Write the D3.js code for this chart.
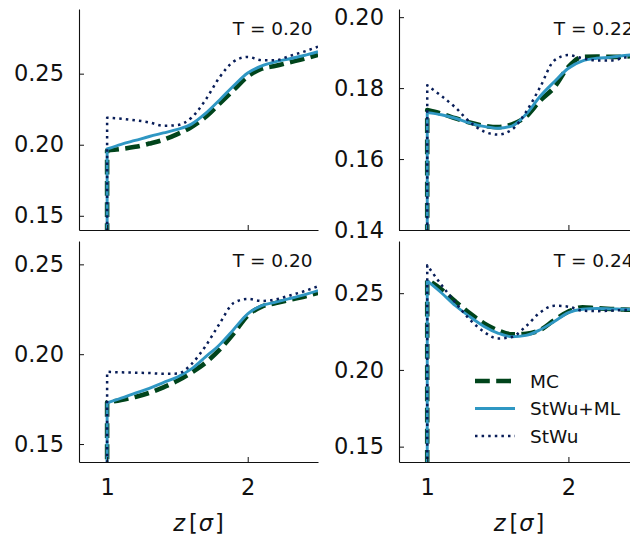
<!DOCTYPE html>
<html>
<head>
<meta charset="utf-8">
<script src="https://cdn.jsdelivr.net/npm/d3@7"></script>
<style>
  html, body { margin: 0; padding: 0; background: #fff; }
  svg { display: block; }
  text { font-family: "DejaVu Sans", sans-serif; fill: #111; }
</style>
</head>
<body>
<svg id="chart" width="630" height="541"></svg>
<script>
// Distance grid z in units of sigma (the profile starts at contact, z = 1)
const zGrid = [1.0, 1.1, 1.2, 1.3, 1.4, 1.5, 1.6, 1.7, 1.8, 1.9, 2.0, 2.1, 2.2, 2.3, 2.4, 2.5];

// Top-left panel, T = 0.20
const mcA   = [0.1960, 0.1970, 0.1985, 0.2008, 0.2035, 0.2075, 0.2125, 0.2195, 0.2290, 0.2385, 0.2480, 0.2535, 0.2555, 0.2580, 0.2605, 0.2633];
const mlA   = [0.1970, 0.2003, 0.2030, 0.2058, 0.2083, 0.2108, 0.2145, 0.2220, 0.2315, 0.2415, 0.2505, 0.2555, 0.2585, 0.2605, 0.2628, 0.2655];
const stwuA = [0.2190, 0.2183, 0.2172, 0.2157, 0.2133, 0.2138, 0.2190, 0.2315, 0.2475, 0.2585, 0.2618, 0.2595, 0.2595, 0.2625, 0.2655, 0.2690];

// Top-right panel, T = 0.22
const mcB   = [0.1738, 0.1728, 0.1715, 0.1703, 0.1694, 0.1690, 0.1698, 0.1720, 0.1765, 0.1802, 0.1860, 0.1888, 0.1889, 0.1888, 0.1889, 0.1892];
const mlB   = [0.1731, 0.1725, 0.1715, 0.1702, 0.1692, 0.1687, 0.1693, 0.1726, 0.1777, 0.1818, 0.1856, 0.1877, 0.1884, 0.1887, 0.1892, 0.1896];
const stwuB = [0.1808, 0.1778, 0.1745, 0.1705, 0.1678, 0.1669, 0.1683, 0.1733, 0.1803, 0.1878, 0.1893, 0.1884, 0.1878, 0.1878, 0.1886, 0.1895];

// Bottom-left panel, T = 0.20
const mcC   = [0.1732, 0.1745, 0.1762, 0.1785, 0.1815, 0.1852, 0.1898, 0.1952, 0.2025, 0.2115, 0.2215, 0.2265, 0.2285, 0.2303, 0.2320, 0.2341];
const mlC   = [0.1729, 0.1755, 0.1783, 0.1810, 0.1842, 0.1873, 0.1918, 0.1985, 0.2053, 0.2138, 0.2225, 0.2270, 0.2290, 0.2310, 0.2330, 0.2354];
const stwuC = [0.1902, 0.1899, 0.1897, 0.1895, 0.1891, 0.1892, 0.1945, 0.2045, 0.2170, 0.2285, 0.2308, 0.2296, 0.2305, 0.2327, 0.2350, 0.2378];

// Bottom-right panel, T = 0.24
const mcD   = [0.2589, 0.2525, 0.2445, 0.2370, 0.2305, 0.2258, 0.2232, 0.2236, 0.2260, 0.2325, 0.2380, 0.2408, 0.2402, 0.2397, 0.2393, 0.2390];
const mlD   = [0.2580, 0.2503, 0.2418, 0.2348, 0.2285, 0.2240, 0.2216, 0.2225, 0.2262, 0.2315, 0.2373, 0.2395, 0.2400, 0.2398, 0.2395, 0.2394];
const stwuD = [0.2682, 0.2555, 0.2438, 0.2330, 0.2249, 0.2205, 0.2215, 0.2285, 0.2375, 0.2418, 0.2412, 0.2386, 0.2383, 0.2386, 0.2390, 0.2390];

// Panel annotations and axis settings
const tempLabels = ["T = 0.20", "T = 0.22", "T = 0.20", "T = 0.24"];
const yDomains = [[0.14, 0.2955], [0.14, 0.2023], [0.14, 0.263], [0.14, 0.284]];
const yTicks = [[0.15, 0.20, 0.25], [0.14, 0.16, 0.18, 0.20], [0.15, 0.20, 0.25], [0.15, 0.20, 0.25]];
const xDomain = [0.8, 2.5];
const xTicks = [1, 2];
const seriesNames = ["MC", "StWu+ML", "StWu"];

const colors = { MC: "#00441b", "StWu+ML": "#2f97c3", StWu: "#081d58" };
const styles = {
  MC: { width: 4.6, dash: "14.8,6.4" },
  "StWu+ML": { width: 2.9, dash: null },
  StWu: { width: 2.5, dash: "2.5,4.1" }
};

const panels = [
  { x0: 79, x1: 318, y0: 9, y1: 230, data: { MC: mcA, "StWu+ML": mlA, StWu: stwuA } },
  { x0: 399, x1: 639, y0: 9, y1: 230, data: { MC: mcB, "StWu+ML": mlB, StWu: stwuB } },
  { x0: 79, x1: 318, y0: 241, y1: 462, data: { MC: mcC, "StWu+ML": mlC, StWu: stwuC } },
  { x0: 399, x1: 639, y0: 241, y1: 462, data: { MC: mcD, "StWu+ML": mlD, StWu: stwuD } }
];

const svg = d3.select("#chart");
const defs = svg.append("defs");

panels.forEach((p, i) => {
  const x = d3.scaleLinear().domain(xDomain).range([p.x0, p.x1]);
  const y = d3.scaleLinear().domain(yDomains[i]).range([p.y1, p.y0]);
  const g = svg.append("g");

  defs.append("clipPath").attr("id", "clip" + i)
    .append("rect").attr("x", p.x0).attr("y", p.y0)
    .attr("width", p.x1 - p.x0).attr("height", p.y1 - p.y0);

  const plot = g.append("g").attr("clip-path", `url(#clip${i})`);

  const line = d3.line()
    .x((d, k) => x(zGrid[k]))
    .y(d => y(d))
    .curve(d3.curveMonotoneX);

  seriesNames.forEach(name => {
    const vals = p.data[name];
    // the profile is zero inside the hard core, then jumps at contact z = 1
    const smooth = line(vals);
    const d = `M${x(zGrid[0])},${y(0)}L` + smooth.slice(1);
    const st = styles[name];
    plot.append("path")
      .attr("d", d)
      .attr("fill", "none")
      .attr("stroke", colors[name])
      .attr("stroke-width", st.width)
      .attr("stroke-dasharray", st.dash)
      .attr("stroke-linecap", "butt")
      .attr("stroke-linejoin", "round");
  });

  // Axes: left and bottom spines with inward ticks
  const yAxis = d3.axisLeft(y).tickValues(yTicks[i]).tickFormat(d3.format(".2f"))
    .tickSizeInner(-5).tickSizeOuter(0).tickPadding(15);
  const ya = g.append("g").attr("transform", `translate(${p.x0},0)`).call(yAxis);
  ya.select(".domain").attr("stroke", "#111").attr("stroke-width", 1.1);
  ya.selectAll(".tick line").attr("stroke", "#111").attr("stroke-width", 1);
  ya.selectAll(".tick text").attr("font-size", 22.5).attr("font-family", "DejaVu Sans").attr("fill", "#111");

  const bottomRow = i >= 2;
  const xAxis = d3.axisBottom(x).tickValues(xTicks)
    .tickFormat(bottomRow ? d3.format("d") : () => "")
    .tickSizeInner(-5).tickSizeOuter(0).tickPadding(17);
  const xa = g.append("g").attr("transform", `translate(0,${p.y1})`).call(xAxis);
  xa.select(".domain").attr("stroke", "#111").attr("stroke-width", 1.1);
  xa.selectAll(".tick line").attr("stroke", "#111").attr("stroke-width", 1);
  xa.selectAll(".tick text").attr("font-size", 22.5).attr("font-family", "DejaVu Sans").attr("fill", "#111");

  // Temperature annotation in the upper-right corner
  g.append("text")
    .attr("x", p.x1 - 5.5)
    .attr("y", p.y0 + 26)
    .attr("text-anchor", "end")
    .attr("font-size", 18.5)
    .text(tempLabels[i]);

  if (bottomRow) {
    const lbl = g.append("text")
      .attr("x", (p.x0 + p.x1) / 2)
      .attr("y", 531)
      .attr("text-anchor", "middle")
      .attr("font-size", 22.5);
    lbl.append("tspan").attr("font-style", "italic").text("z");
    lbl.append("tspan").attr("dx", 4).text("[");
    lbl.append("tspan").attr("dx", 1).attr("font-style", "italic").text("σ");
    lbl.append("tspan").attr("dx", 2).text("]");
  }

  // Legend lives in the bottom-right panel
  if (i === 3) {
    const rowsY = [381, 408.5, 436];
    seriesNames.forEach((name, k) => {
      const st = styles[name];
      g.append("line")
        .attr("x1", 475).attr("x2", 515)
        .attr("y1", rowsY[k]).attr("y2", rowsY[k])
        .attr("stroke", colors[name])
        .attr("stroke-width", st.width)
        .attr("stroke-dasharray", st.dash);
      g.append("text")
        .attr("x", 530).attr("y", rowsY[k])
        .attr("dy", "0.36em")
        .attr("font-size", 18.5)
        .text(name);
    });
  }
});
</script>
</body>
</html>
